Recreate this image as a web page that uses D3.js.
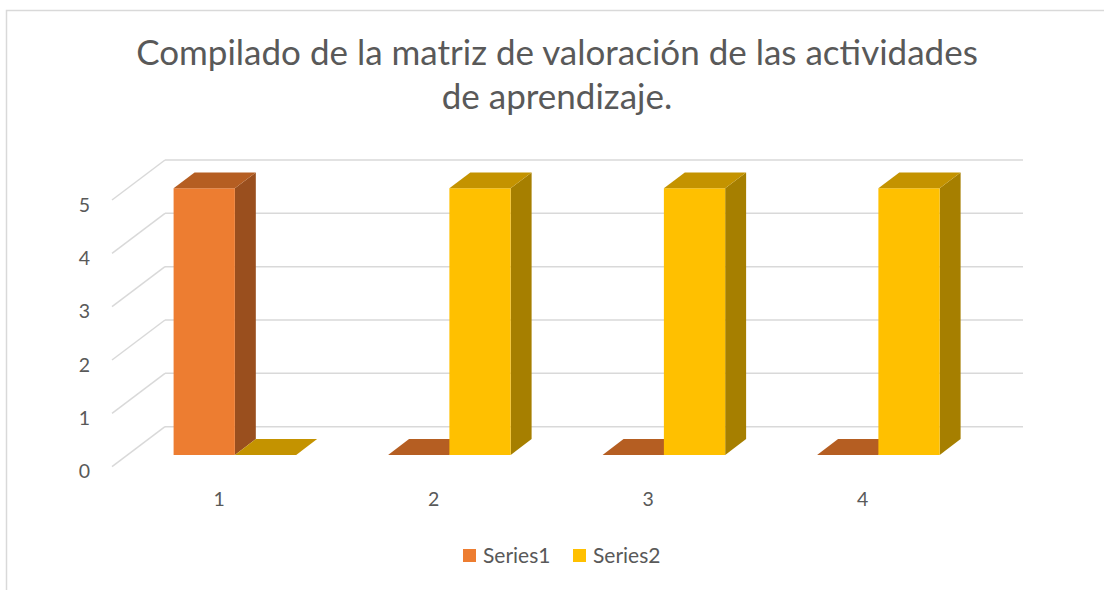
<!DOCTYPE html>
<html>
<head>
<meta charset="utf-8">
<script src="https://cdn.jsdelivr.net/npm/d3@7"></script>
<style>
  html, body { margin: 0; padding: 0; background: #fff; }
  svg { display: block; }
  text { font-family: Lato, "Open Sans", sans-serif; fill: #595959; }
</style>
</head>
<body>
<svg id="chart" width="1104" height="590"></svg>
<script>
// ---- data ----
const titleLines = ["Compilado de la matriz de valoración de las actividades", "de aprendizaje."];
const categories = ["1", "2", "3", "4"];
const seriesNames = ["Series1", "Series2"];
const series1 = [5, 0, 0, 0];
const series2 = [0, 5, 5, 5];
const yTicks = [0, 1, 2, 3, 4, 5];

// ---- styles ----
const colors = {
  Series1: { front: "#ED7D31", top: "#B55E22", side: "#9A4F1E" },
  Series2: { front: "#FFC000", top: "#C49300", side: "#A67F00" }
};

const svg = d3.select("#chart");
const W = 1104, H = 590;

// chart border
svg.append("rect").attr("x", 6.5).attr("y", 10.5).attr("width", W + 10).attr("height", H + 10)
  .attr("fill", "#fff").attr("stroke", "#d9d9d9").attr("stroke-width", 1.5);

// title
const title = svg.append("text").attr("text-anchor", "middle").style("font-size", "35px");
titleLines.forEach((t, i) => {
  title.append("tspan").attr("x", 557).attr("y", 65 + i * 44).text(t);
});

// back-wall scales
const x = d3.scaleBand().domain(categories).range([165, 1023]);
const y = d3.scaleLinear().domain([0, 5]).range([426.7, 160]);
const sub = d3.scaleBand().domain(seriesNames).range([0, x.bandwidth()]).paddingInner(0).paddingOuter(0.75);

// depth projection (0 = back wall, 1 = front of floor)
const depthVec = [-53, 40];
const proj = (px, v, d) => [px + depthVec[0] * d, y(v) + depthVec[1] * d];

// gridlines: back wall + left wall diagonals
const grid = svg.append("g").attr("stroke", "#d9d9d9").attr("stroke-width", 1.5).attr("fill", "none");
yTicks.forEach(v => {
  grid.append("line").attr("x1", x.range()[0]).attr("x2", x.range()[1]).attr("y1", y(v)).attr("y2", y(v));
  const a = proj(x.range()[0], v, 0), b = proj(x.range()[0], v, 1);
  grid.append("line").attr("x1", a[0]).attr("y1", a[1]).attr("x2", b[0]).attr("y2", b[1]);
});

// y tick labels
svg.append("g").selectAll("text").data(yTicks).join("text")
  .attr("x", d => proj(x.range()[0], d, 1)[0] - 22)
  .attr("y", d => proj(x.range()[0], d, 1)[1] + 4)
  .attr("text-anchor", "end").attr("dominant-baseline", "central")
  .style("font-size", "19.5px").text(d => d);

// x tick labels (front of floor)
svg.append("g").selectAll("text").data(categories).join("text")
  .attr("x", d => proj(x(d) + x.bandwidth() / 2, 0, 1)[0])
  .attr("y", 498)
  .attr("text-anchor", "middle").attr("dominant-baseline", "central")
  .style("font-size", "19.5px").text(d => d);

// bars
const dFront = 0.705, dBack = 0.31;
const bars = [];
categories.forEach((c, i) => {
  [series1, series2].forEach((vals, s) => {
    bars.push({ cat: c, series: seriesNames[s], value: vals[i] });
  });
});
const pt = p => p.join(",");
const gBars = svg.append("g");
bars.forEach(b => {
  const x0 = x(b.cat) + sub(b.series), x1 = x0 + sub.bandwidth();
  const col = colors[b.series];
  const fBL = proj(x0, 0, dFront), fBR = proj(x1, 0, dFront);
  const fTL = proj(x0, b.value, dFront), fTR = proj(x1, b.value, dFront);
  const bTL = proj(x0, b.value, dBack), bTR = proj(x1, b.value, dBack);
  const bBR = proj(x1, 0, dBack);
  const g = gBars.append("g");
  if (b.value > 0) {
    g.append("polygon").attr("points", [fBR, fTR, bTR, bBR].map(pt).join(" ")).attr("fill", col.side);
    g.append("polygon").attr("points", [fBL, fBR, fTR, fTL].map(pt).join(" ")).attr("fill", col.front);
  }
  g.append("polygon").attr("points", [fTL, fTR, bTR, bTL].map(pt).join(" ")).attr("fill", col.top);
});

// legend
const legend = svg.append("g");
const legendItems = [{ name: "Series1", x: 463 }, { name: "Series2", x: 573 }];
legendItems.forEach(it => {
  legend.append("rect").attr("x", it.x).attr("y", 549).attr("width", 13).attr("height", 13)
    .attr("fill", colors[it.name].front);
  legend.append("text").attr("x", it.x + 20).attr("y", 562.5).style("font-size", "21px").text(it.name);
});
</script>
</body>
</html>
